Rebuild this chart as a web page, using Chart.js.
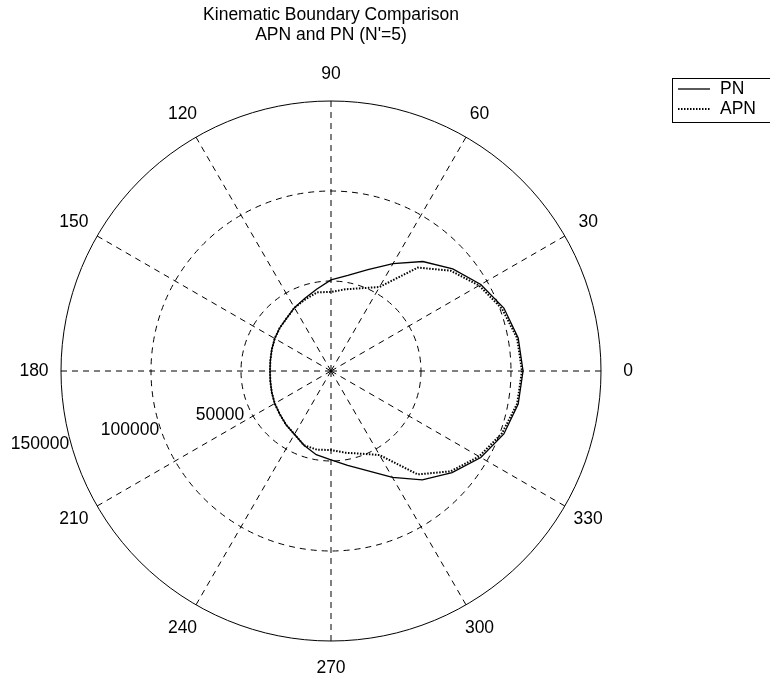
<!DOCTYPE html>
<html>
<head>
<meta charset="utf-8">
<script src="https://cdn.jsdelivr.net/npm/chart.js@4/dist/chart.umd.min.js"></script>
<style>
  html, body { margin: 0; padding: 0; background: #fff; }
  canvas { display: block; }
</style>
</head>
<body>
<canvas id="c" width="770" height="684"></canvas>
<script>
// Polar angles (degrees, counter-clockwise from the right) at which the boundary is sampled
const angles = [0, 10, 20, 30, 40, 50, 60, 70, 80, 90, 100, 110, 120, 130, 140, 150, 160, 170,
                180, 190, 200, 210, 220, 230, 240, 250, 260, 270, 280, 290, 300, 310, 320, 330, 340, 350];

// Kinematic boundary range for proportional navigation
const pnRange = [106700, 105600, 102200, 96100, 88300, 79400, 68900, 60000, 53900, 50600,
                 46100, 42800, 40600, 38300, 37200, 36100, 35000, 34200, 33900, 34200,
                 35000, 36100, 37200, 38900, 40600, 43900, 47200, 49400, 53300, 58900,
                 68300, 78900, 87800, 96100, 102200, 105600];

// Kinematic boundary range for augmented proportional navigation
const apnRange = [106100, 105000, 101100, 95000, 86700, 75000, 53900, 48900, 46100, 43900,
                  44400, 42200, 40600, 38300, 37200, 36100, 35000, 34200, 33900, 34200,
                  35000, 36100, 37200, 38900, 40600, 43900, 44400, 43900, 46100, 48900,
                  53900, 75000, 86700, 95000, 101100, 105000];

// Range rings and spoke labels
const rangeTicks = [50000, 100000, 150000];
const spokeAngles = [0, 30, 60, 90, 120, 150, 180, 210, 240, 270, 300, 330];
const seriesNames = ['PN', 'APN'];
const titleLines = ['Kinematic Boundary Comparison', "APN and PN (N'=5)"];

const FONT = '"Liberation Sans", Arial, Helvetica, sans-serif';
const FSIZE = 17.5;

// The radial scale runs clockwise from its start angle, so walk the angles backwards
const order = angles.map((a, k) => (angles.length - k) % angles.length);
const radarLabels = order.map(i => angles[i]);
const pnData = order.map(i => pnRange[i]);
const apnData = order.map(i => apnRange[i]);

const polarText = {
  id: 'polarText',
  afterDraw(chart) {
    const ctx = chart.ctx;
    const s = chart.scales.r;
    ctx.save();
    ctx.fillStyle = '#000';
    ctx.font = FSIZE + 'px ' + FONT;
    ctx.textAlign = 'center';
    ctx.textBaseline = 'middle';
    // angle labels just outside the outer ring
    radarLabels.forEach((a, i) => {
      if (!spokeAngles.includes(a)) return;
      const p = s.getPointPosition(i, s.drawingArea * 1.1);
      ctx.fillText(String(a), p.x, p.y);
    });
    // range labels down and to the left of the centre
    rangeTicks.forEach(v => {
      const d = s.getDistanceFromCenterForValue(v);
      ctx.fillText(String(v), s.xCenter - d - 21, s.yCenter + 30 + 0.16 * d);
    });

    // legend box
    const bx = 672, by = 78, bw = 110, bh = 44;
    ctx.lineWidth = 1;
    ctx.strokeStyle = '#000';
    ctx.strokeRect(bx + 0.5, by + 0.5, bw, bh);
    ctx.textAlign = 'left';
    chart.data.datasets.forEach((ds, i) => {
      const y = by + 11 + i * 20;
      ctx.save();
      ctx.lineWidth = ds.borderWidth;
      ctx.setLineDash(ds.borderDash || []);
      ctx.beginPath();
      ctx.moveTo(bx + 6, y);
      ctx.lineTo(bx + 38, y);
      ctx.stroke();
      ctx.restore();
      ctx.fillText(ds.label, bx + 48, y);
    });
    ctx.restore();
  }
};

new Chart(document.getElementById('c'), {
  type: 'radar',
  data: {
    labels: radarLabels,
    datasets: [
      { label: seriesNames[0], data: pnData, borderColor: '#000', borderWidth: 1.3,
        fill: false, pointRadius: 0, borderDash: [] },
      { label: seriesNames[1], data: apnData, borderColor: '#000', borderWidth: 2,
        fill: false, pointRadius: 0, borderDash: [1.5, 1.5] }
    ]
  },
  options: {
    responsive: false,
    animation: false,
    devicePixelRatio: 1,
    layout: { padding: { left: 61, right: 169, top: 0, bottom: 43 } },
    plugins: {
      legend: { display: false },
      tooltip: { enabled: false },
      title: {
        display: true,
        text: titleLines,
        color: '#000',
        font: { family: FONT, size: FSIZE, weight: 'normal', lineHeight: '20px' },
        padding: { top: 5, bottom: 56 }
      }
    },
    scales: {
      r: {
        min: 0,
        max: 150000,
        startAngle: 90,
        ticks: { display: false, stepSize: 50000 },
        pointLabels: { display: false },
        grid: { circular: true, color: '#000', lineWidth: 1 },
        border: { dash: ctx => (ctx.tick && ctx.tick.value === 150000) ? [] : [6, 5] },
        angleLines: {
          display: true,
          color: '#000',
          lineWidth: ctx => spokeAngles.includes(radarLabels[ctx.index]) ? 1 : 0,
          borderDash: [6, 5]
        }
      }
    }
  },
  plugins: [polarText]
});
</script>
</body>
</html>
